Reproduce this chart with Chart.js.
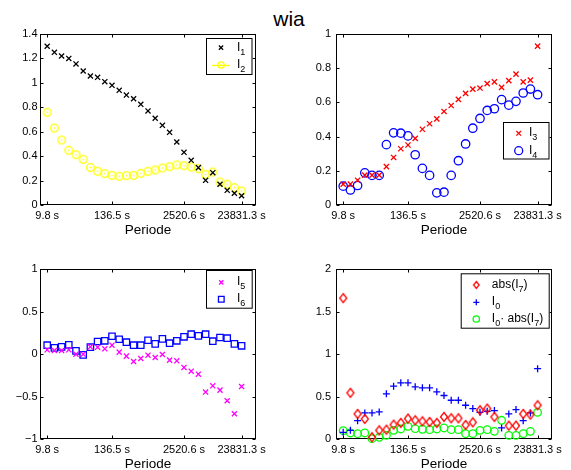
<!DOCTYPE html>
<html>
<head>
<meta charset="utf-8">
<title>wia</title>
<script src="https://cdn.jsdelivr.net/npm/chart.js@4.4.0/dist/chart.umd.min.js"></script>
<style>
    html, body { margin: 0; padding: 0; background: #fff; overflow: hidden; }
    #wrap { position: relative; width: 571px; height: 470px; }
    #wrap canvas { position: absolute; left: 0; top: 0; }
    #title {
        position: absolute; left: 0; top: 7px; width: 578px;
        text-align: center; line-height: 21px;
        font: 21px "Liberation Sans", Arial, sans-serif; color: #000;
    }
</style>
</head>
<body>
<div id="wrap">
    <div id="title">wia</div>
    <canvas id="chartTL" width="571" height="470"></canvas>
    <canvas id="chartTR" width="571" height="470"></canvas>
    <canvas id="chartBL" width="571" height="470"></canvas>
    <canvas id="chartBR" width="571" height="470"></canvas>
</div>
<script>
// period index (x position of each period) and the tick labels shown on it
const periodIndex = [1, 2, 3, 4, 5, 6, 7, 8, 9, 10, 11, 12, 13, 14, 15, 16, 17, 18, 19, 20, 21, 22, 23, 24, 25, 26, 27, 28];
const xTickPos = [1, 10, 20, 28];
const xTickLabels = ['9.8 s', '136.5 s', '2520.6 s', '23831.3 s'];

// top left
const I1 = [1.30, 1.25, 1.22, 1.20, 1.155, 1.097, 1.056, 1.045, 1.01, 0.98, 0.939, 0.90, 0.87, 0.824,
            0.77, 0.71, 0.652, 0.595, 0.516, 0.431, 0.366, 0.306, 0.202, 0.265, 0.17, 0.12, 0.096, 0.076];
const I2 = [0.759, 0.63, 0.532, 0.448, 0.412, 0.374, 0.308, 0.276, 0.257, 0.243, 0.235, 0.24, 0.243, 0.259,
            0.276, 0.287, 0.303, 0.314, 0.328, 0.322, 0.311, 0.297, 0.251, 0.27, 0.188, 0.17, 0.142, 0.115];

// top right
const I3 = [0.122, 0.122, 0.145, 0.175, 0.175, 0.175, 0.224, 0.278, 0.329, 0.351, 0.39, 0.443, 0.475, 0.504,
            0.547, 0.582, 0.618, 0.653, 0.678, 0.684, 0.71, 0.72, 0.688, 0.727, 0.765, 0.72, 0.73, 0.929];
const I4 = [0.11, 0.088, 0.114, 0.188, 0.173, 0.173, 0.353, 0.422, 0.42, 0.404, 0.294, 0.214, 0.173, 0.071,
            0.075, 0.173, 0.259, 0.357, 0.449, 0.506, 0.553, 0.563, 0.616, 0.584, 0.606, 0.655, 0.678, 0.645];

// bottom left
const I5 = [0.049, 0.041, 0.041, 0.049, -0.002, -0.002, 0.084, 0.08, 0.061, 0.104, 0.022, -0.025, -0.088, -0.053,
            -0.014, -0.041, -0.006, -0.072, -0.08, -0.158, -0.202, -0.237, -0.448, -0.374, -0.425, -0.55, -0.703, -0.382];
const I6 = [0.104, 0.072, 0.084, 0.108, 0.037, -0.01, 0.08, 0.147, 0.155, 0.209, 0.174, 0.139, 0.104, 0.104,
            0.162, 0.119, 0.178, 0.127, 0.155, 0.202, 0.233, 0.213, 0.233, 0.151, 0.194, 0.186, 0.119, 0.096];

// bottom right
const absI7 = [1.657, 0.543, 0.295, 0.236, 0.02, 0.102, 0.11, 0.169, 0.189, 0.24, 0.22, 0.208, 0.2, 0.189,
               0.26, 0.244, 0.244, 0.165, 0.196, 0.338, 0.358, 0.26, null, 0.157, 0.157, 0.295, 0.287, 0.397];
const I0 = [0.079, 0.102, 0.216, 0.307, 0.307, 0.319, 0.531, 0.622, 0.661, 0.661, 0.614, 0.602, 0.602, 0.555,
            0.512, 0.456, 0.456, 0.397, 0.358, 0.314, 0.326, 0.334, 0.13, 0.295, 0.346, 0.216, 0.307, 0.827];
const I0absI7 = [0.098, 0.071, 0.063, 0.071, 0.004, 0.02, 0.043, 0.102, 0.118, 0.149, 0.122, 0.114, 0.11, 0.118,
                 0.13, 0.11, 0.11, 0.063, 0.063, 0.102, 0.11, 0.09, 0.22, 0.043, 0.043, 0.063, 0.09, 0.314];

// legend labels, [text, 'sub'] marks a subscript
const labelsTL = [[['I'], ['1', 'sub']], [['I'], ['2', 'sub']]];
const labelsTR = [[['I'], ['3', 'sub']], [['I'], ['4', 'sub']]];
const labelsBL = [[['I'], ['5', 'sub']], [['I'], ['6', 'sub']]];
const labelsBR = [
    [['abs(I'], ['7', 'sub'], [')']],
    [['I'], ['0', 'sub']],
    [['I'], ['0', 'sub'], ['\u00b7 abs(I'], ['7', 'sub'], [')']]
];

const FONT = '"Liberation Sans", Arial, sans-serif';
const MARK_W = 1.3;
Chart.defaults.font.family = FONT;
Chart.defaults.color = '#000';

/**
 * Small marker images for styles Chart.js does not have
 */
function makeDiamond(color, w, h) {
    const c = document.createElement('canvas');
    c.width = Math.ceil(w + 3); c.height = Math.ceil(h + 3);
    const cx = c.width / 2, cy = c.height / 2;
    const g = c.getContext('2d');
    g.strokeStyle = color;
    g.lineWidth = MARK_W;
    g.beginPath();
    g.moveTo(cx, cy - h / 2); g.lineTo(cx + w / 2, cy); g.lineTo(cx, cy + h / 2); g.lineTo(cx - w / 2, cy); g.closePath();
    g.stroke();
    return c;
}

function makeDotCircle(color, r) {
    const s = Math.ceil(r * 2 + 3);
    const c = document.createElement('canvas');
    c.width = s; c.height = s;
    const g = c.getContext('2d');
    g.strokeStyle = color;
    g.fillStyle = color;
    g.lineWidth = MARK_W;
    g.beginPath();
    g.arc(s / 2, s / 2, r, 0, Math.PI * 2);
    g.stroke();
    g.fillRect(s / 2 - 0.75, s / 2 - 0.75, 1.5, 1.5);
    return c;
}

const diamondRed = makeDiamond('#ff0000', 7, 9);
const diamondRedSmall = makeDiamond('#ff0000', 5.5, 7);
const circleYellow = makeDotCircle('#ffff00', 3.8);
const circleYellowSmall = makeDotCircle('#ffff00', 3.2);

/**
 * Box round the plot area with inward tick marks (MATLAB style)
 */
const framePlugin = {
    id: 'frame',
    beforeDatasetsDraw(chart) {
        const { ctx, chartArea: a, scales } = chart;
        const L = Math.round(a.left) + 0.5, R = Math.round(a.right) - 0.5;
        const T = Math.round(a.top) + 0.5, B = Math.round(a.bottom) - 0.5;
        ctx.save();
        ctx.strokeStyle = '#000';
        ctx.lineWidth = 1;
        ctx.strokeRect(L, T, R - L, B - T);
        ctx.beginPath();
        scales.x.ticks.forEach(function(t) {
            const px = Math.round(scales.x.getPixelForValue(t.value)) + 0.5;
            ctx.moveTo(px, B); ctx.lineTo(px, B - 3);
            ctx.moveTo(px, T); ctx.lineTo(px, T + 3);
        });
        scales.y.ticks.forEach(function(t) {
            const py = Math.round(scales.y.getPixelForValue(t.value)) + 0.5;
            ctx.moveTo(L, py); ctx.lineTo(L + 3, py);
            ctx.moveTo(R, py); ctx.lineTo(R - 3, py);
        });
        ctx.stroke();
        ctx.restore();
    }
};

function drawRichText(ctx, segs, x, y) {
    segs.forEach(function(seg) {
        const sub = seg[1] === 'sub';
        ctx.font = (sub ? '9px ' : '12px ') + FONT;
        ctx.fillText(seg[0], x, sub ? y + 4 : y);
        x += ctx.measureText(seg[0]).width;
    });
}

/**
 * Legend drawn as a boxed MATLAB legend
 */
function makeLegend(cfg) {
    return {
        id: 'matLegend',
        afterDatasetsDraw(chart) {
            const ctx = chart.ctx;
            const [x0, y0, x1, y1] = cfg.box;
            ctx.save();
            ctx.fillStyle = '#fff';
            ctx.fillRect(x0, y0, x1 - x0, y1 - y0);
            ctx.strokeStyle = '#000';
            ctx.lineWidth = 1;
            ctx.strokeRect(x0 + 0.5, y0 + 0.5, x1 - x0 - 1, y1 - y0 - 1);
            cfg.items.forEach(function(item, i) {
                const y = cfg.rows[i];
                if (item.line) {
                    ctx.strokeStyle = item.color;
                    ctx.lineWidth = MARK_W;
                    ctx.beginPath();
                    ctx.moveTo(item.line[0], y + 0.5);
                    ctx.lineTo(item.line[1], y + 0.5);
                    ctx.stroke();
                }
                ctx.strokeStyle = item.color;
                ctx.fillStyle = 'rgba(0,0,0,0)';
                ctx.lineWidth = MARK_W;
                Chart.helpers.drawPoint(ctx, { pointStyle: item.style, radius: item.r, rotation: 0, borderWidth: MARK_W }, cfg.sampleX, y);
                ctx.fillStyle = '#000';
                ctx.textBaseline = 'alphabetic';
                ctx.textAlign = 'left';
                drawRichText(ctx, item.label, cfg.textX, y + 3);
            });
            ctx.restore();
        }
    };
}

function fmtY(v) {
    return String(+v.toFixed(2)).replace('-', '\u2212');
}

function buildScales(yMin, yMax, yStep, yPad, titlePad) {
    return {
        x: {
            type: 'linear',
            min: 0,
            max: 30,
            grid: { display: false, drawTicks: false },
            border: { display: false },
            afterBuildTicks: function(scale) {
                scale.ticks = xTickPos.map(v => ({ value: v }));
            },
            afterFit: function(scale) {
                scale.height = 31;
                scale.paddingLeft = 0;
                scale.paddingRight = 0;
            },
            ticks: {
                autoSkip: false,
                maxRotation: 0,
                padding: 4.4,
                font: { size: 11 },
                callback: (v, i) => xTickLabels[i]
            },
            title: {
                display: true,
                text: 'Periode',
                font: { size: 13.5 },
                padding: { top: 0, bottom: titlePad }
            }
        },
        y: {
            type: 'linear',
            min: yMin,
            max: yMax,
            grid: { display: false, drawTicks: false },
            border: { display: false },
            afterFit: function(scale) {
                scale.width = 40;
                scale.paddingTop = 0;
                scale.paddingBottom = 0;
            },
            ticks: {
                stepSize: yStep,
                padding: yPad,
                font: { size: 11 },
                callback: v => fmtY(v)
            }
        }
    };
}

function points(ys) {
    return periodIndex.map((x, i) => ({ x: x, y: ys[i] }));
}

function series(ys, style, color, r) {
    return {
        data: points(ys),
        pointStyle: style,
        pointRadius: r,
        pointHoverRadius: r,
        pointBorderWidth: MARK_W,
        borderColor: color,
        backgroundColor: 'rgba(0,0,0,0)',
        showLine: false,
        clip: false
    };
}

function makeChart(id, datasets, scales, padding, legend) {
    new Chart(document.getElementById(id), {
        type: 'scatter',
        data: { datasets: datasets },
        options: {
            responsive: false,
            animation: false,
            events: [],
            layout: { autoPadding: false, padding: padding },
            scales: scales,
            plugins: {
                legend: { display: false },
                tooltip: { enabled: false }
            }
        },
        plugins: [framePlugin, makeLegend(legend)]
    });
}

// plot areas: TL/BL x 40..256, TR/BR x 336..552, top row y 34..205, bottom row y 269..439
makeChart('chartTL',
    [series(I1, 'crossRot', '#000000', 3.6), series(I2, circleYellow, '#ffff00', 4)],
    buildScales(0, 1.4, 0.2, 2.5, -2.8),
    { left: 0, top: 34, right: 315, bottom: 234 },
    {
        box: [206, 38, 252.5, 75], sampleX: 221, textX: 237, rows: [47.7, 65],
        items: [
            { style: 'crossRot', color: '#000000', r: 3, label: labelsTL[0] },
            { style: circleYellowSmall, color: '#ffff00', r: 3, label: labelsTL[1], line: [212, 230] }
        ]
    });

makeChart('chartTR',
    [series(I3, 'crossRot', '#ff0000', 3.7), series(I4, 'circle', '#0000ff', 4.2)],
    buildScales(0, 1, 0.2, 5, -2.8),
    { left: 296, top: 34, right: 19, bottom: 234 },
    {
        box: [503, 122, 549.5, 159.5], sampleX: 518.7, textX: 529, rows: [133.3, 150.7],
        items: [
            { style: 'crossRot', color: '#ff0000', r: 3.3, label: labelsTR[0] },
            { style: 'circle', color: '#0000ff', r: 4, label: labelsTR[1] }
        ]
    });

makeChart('chartBL',
    [series(I5, 'crossRot', '#ff00ff', 3.6), series(I6, 'rect', '#0000ff', 4.5)],
    buildScales(-1, 1, 0.5, 2.5, -2.4),
    { left: 0, top: 269, right: 315, bottom: 0 },
    {
        box: [206, 270, 252.7, 308.7], sampleX: 221.3, textX: 237, rows: [282.3, 299.3],
        items: [
            { style: 'crossRot', color: '#ff00ff', r: 3, label: labelsBL[0] },
            { style: 'rect', color: '#0000ff', r: 4, label: labelsBL[1] }
        ]
    });

makeChart('chartBR',
    [series(absI7, diamondRed, '#ff0000', 4.5), series(I0, 'cross', '#0000ff', 3.5), series(I0absI7, 'circle', '#00ff00', 3.8)],
    buildScales(0, 2, 0.5, 5, -2.4),
    { left: 296, top: 269, right: 19, bottom: 0 },
    {
        box: [460.7, 273.3, 549.7, 328.7], sampleX: 476.3, textX: 491.8, rows: [285, 302.3, 319],
        items: [
            { style: diamondRedSmall, color: '#ff0000', r: 3, label: labelsBR[0] },
            { style: 'cross', color: '#0000ff', r: 3, label: labelsBR[1] },
            { style: 'circle', color: '#00ff00', r: 3.2, label: labelsBR[2] }
        ]
    });
</script>
</body>
</html>
